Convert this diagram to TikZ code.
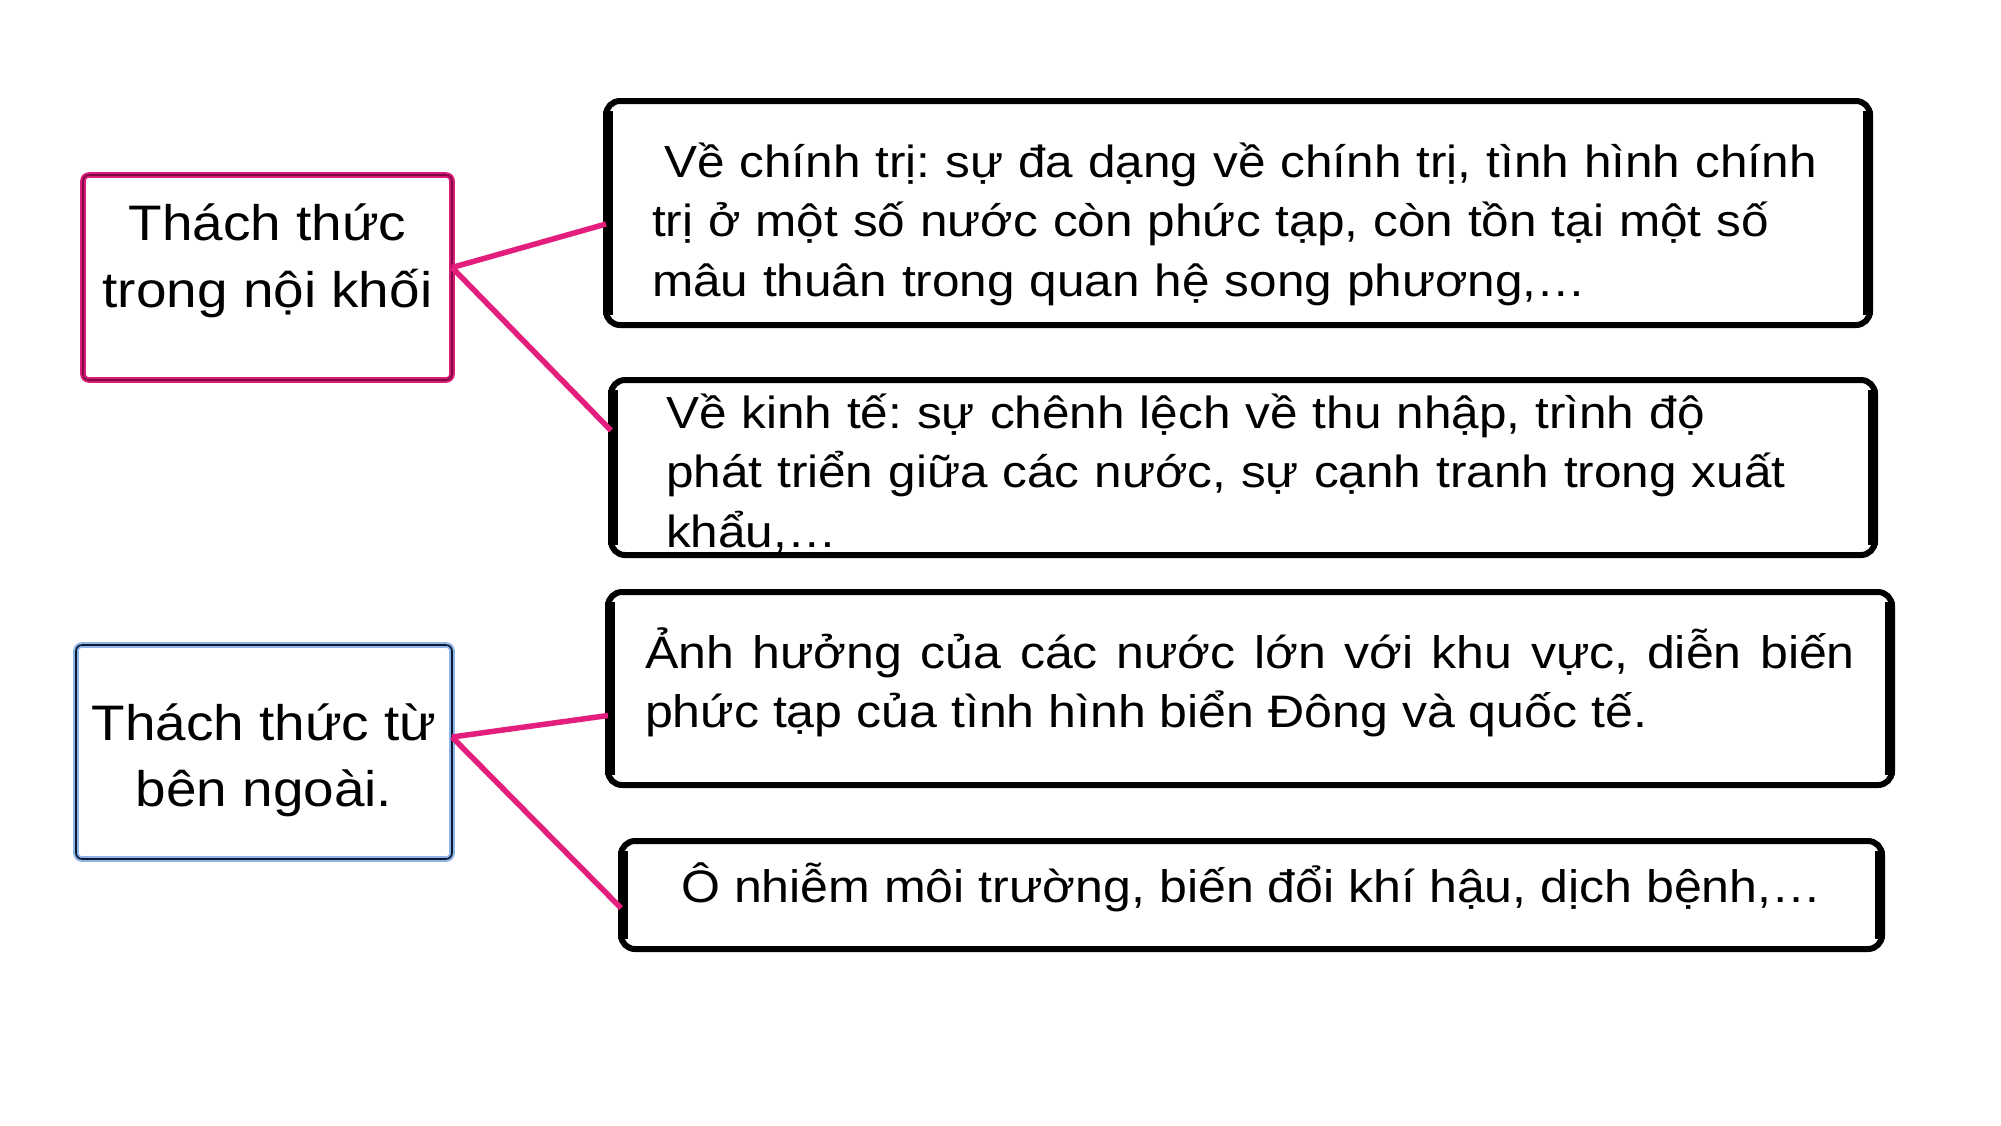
\documentclass[tikz,border=0pt]{standalone}
\usepackage{fontspec}
\setmainfont[FakeStretch=1.1]{Liberation Sans}
\usepackage{tikz}
\frenchspacing

\definecolor{hong}{RGB}{228,30,124}
\definecolor{hongvien}{RGB}{218,28,122}
\definecolor{hongdam}{RGB}{125,10,65}
\definecolor{xanhvien}{RGB}{140,180,230}
\definecolor{xanhdam}{RGB}{15,25,50}

\tikzset{
  lbox/.style={rectangle, rounded corners=0.06cm, outer sep=0pt, align=center,
    line width=0.02cm, double distance=0.016cm,
    font=\fontsize{14.2}{18.9}\selectfont},
  rbox/.style={draw, rectangle, rounded corners=0.14cm, line width=0.06cm,
    outer sep=0pt, inner xsep=0pt, inner ysep=0pt,
    font=\fontsize{12.95}{16.93}\selectfont},
  noi/.style={draw=hong, line width=0.055cm},
}

\begin{document}
\begin{tikzpicture}
  \useasboundingbox (0,0) rectangle (20.01,-11.25);
  \node[lbox, draw=hongvien, double=hongdam, minimum width=3.69cm, minimum height=2.05cm, text depth=0.44cm]
    (tnk) at (2.675,-2.775) {Thách thức\\trong nội khối};
  \node[lbox, draw=xanhvien, double=xanhdam, minimum width=3.76cm, minimum height=2.14cm, text height=1.2cm]
    (tbn) at (2.64,-7.52) {Thách thức từ\\bên ngoài.};

  \node[rbox, minimum width=12.64cm, minimum height=2.24cm, text width=12cm, align=left, text height=0.57cm,
    font=\fontsize{12.8}{16.93}\selectfont]
    (ctri) at (12.38,-2.13) {\hspace*{0.26cm}Về chính trị: sự đa dạng về chính trị, tình hình chính\\\hspace*{0.14cm}trị ở một số nước còn phức tạp, còn tồn tại một số\\\hspace*{0.14cm}mâu thuân trong quan hệ song phương,…};
  \node[rbox, minimum width=12.64cm, minimum height=1.75cm, text width=11.54cm, align=left, text height=0.46cm,
    font=\fontsize{12.8}{16.93}\selectfont]
    (kte) at (12.43,-4.675) {Về kinh tế: sự chênh lệch về thu nhập, trình độ\\phát triển giữa các nước, sự cạnh tranh trong xuất\\khẩu,…};
  \node[rbox, minimum width=12.84cm, minimum height=1.93cm, text width=12.1cm, align=justify, text depth=0.81cm]
    (ahg) at (12.5,-6.885) {Ảnh hưởng của các nước lớn với khu vực, diễn biến\linebreak phức tạp của tình hình biển Đông và quốc tế.};
  \node[rbox, minimum width=12.61cm, minimum height=1.08cm, align=center, text depth=0.24cm]
    (onh) at (12.515,-8.95) {Ô nhiễm môi trường, biến đổi khí hậu, dịch bệnh,…};

  % canh trai, canh phai dam hon
  \foreach \b in {ctri,kte,ahg,onh}{
    \draw[line width=0.1cm] ([xshift=0.02cm,yshift=-0.1cm]\b.north west) -- ([xshift=0.02cm,yshift=0.1cm]\b.south west);
    \draw[line width=0.1cm] ([xshift=-0.02cm,yshift=-0.1cm]\b.north east) -- ([xshift=-0.02cm,yshift=0.1cm]\b.south east);
  }

  \draw[noi] ([yshift=0.1cm]tnk.east) -- ([yshift=-0.11cm]ctri.west);
  \draw[noi] ([yshift=0.1cm]tnk.east) -- ([yshift=0.37cm]kte.west);
  \draw[noi] ([yshift=0.15cm]tbn.east) -- ([yshift=-0.27cm]ahg.west);
  \draw[noi] ([yshift=0.15cm]tbn.east) -- ([yshift=-0.13cm]onh.west);
\end{tikzpicture}
\end{document}
